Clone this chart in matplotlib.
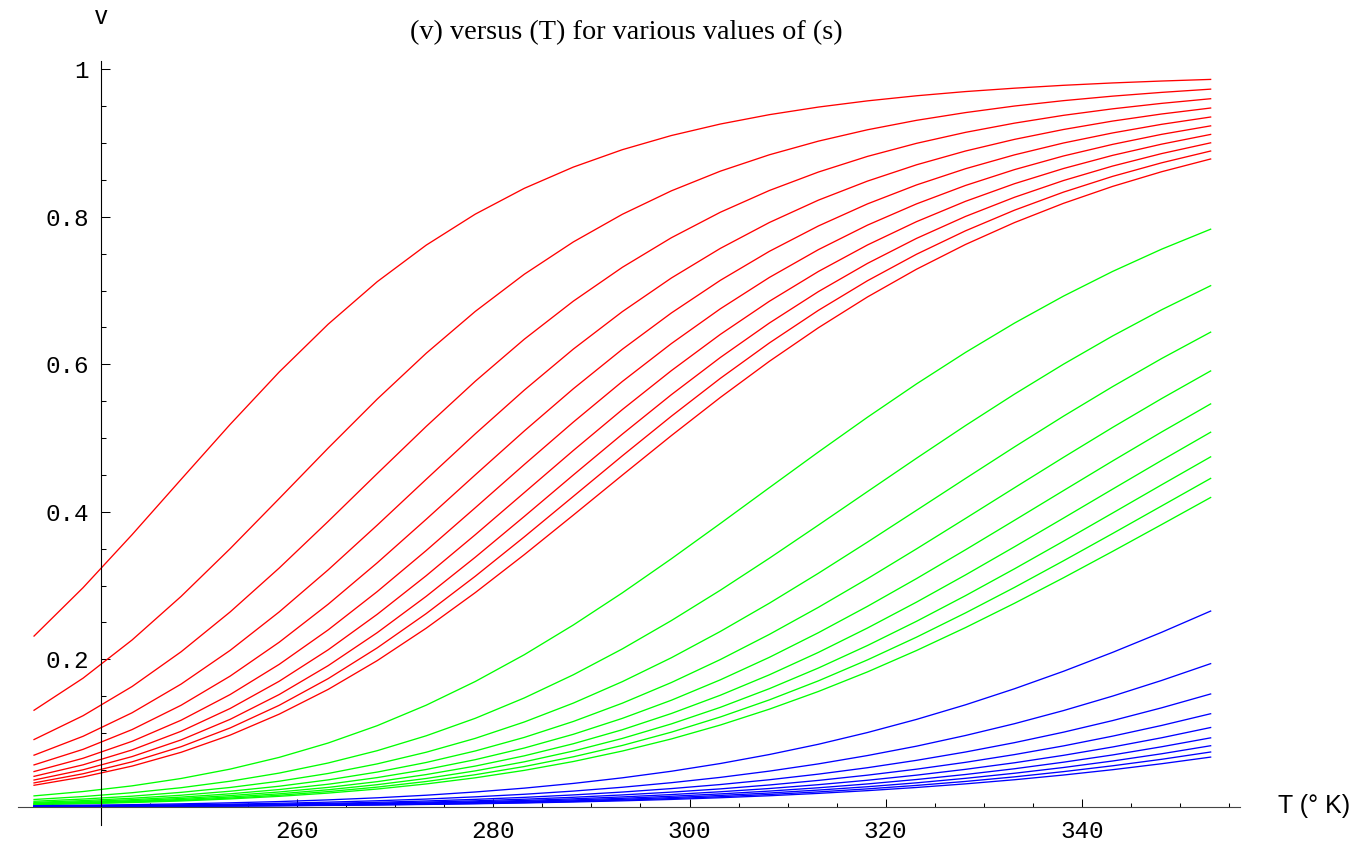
import matplotlib
matplotlib.use("Agg")
from matplotlib import pyplot as plt
from matplotlib.ticker import FixedLocator

# temperature samples (K)
T = [233.15, 238.15, 243.15, 248.15, 253.15, 258.15, 263.15, 268.15, 273.15,
     278.15, 283.15, 288.15, 293.15, 298.15, 303.15, 308.15, 313.15, 318.15,
     323.15, 328.15, 333.15, 338.15, 343.15, 348.15, 353.15]

# red group, s = 1 .. 10
red_s = [1, 2, 3, 4, 5, 6, 7, 8, 9, 10]
red_v = [
    [0.2315, 0.2971, 0.3690, 0.4440, 0.5185, 0.5895, 0.6544, 0.7120, 0.7616, 0.8036, 0.8386, 0.8674, 0.8910, 0.9102, 0.9258, 0.9385, 0.9488, 0.9572, 0.9641, 0.9698, 0.9744, 0.9783, 0.9815, 0.9841, 0.9863],
    [0.1309, 0.1744, 0.2262, 0.2853, 0.3500, 0.4179, 0.4864, 0.5528, 0.6150, 0.6717, 0.7221, 0.7659, 0.8034, 0.8352, 0.8619, 0.8841, 0.9026, 0.9180, 0.9308, 0.9413, 0.9502, 0.9575, 0.9636, 0.9687, 0.9731],
    [0.0912, 0.1235, 0.1631, 0.2102, 0.2642, 0.3237, 0.3870, 0.4518, 0.5158, 0.5770, 0.6340, 0.6856, 0.7315, 0.7716, 0.8062, 0.8357, 0.8607, 0.8819, 0.8996, 0.9145, 0.9270, 0.9376, 0.9464, 0.9538, 0.9601],
    [0.0700, 0.0956, 0.1275, 0.1664, 0.2121, 0.2642, 0.3213, 0.3819, 0.4441, 0.5057, 0.5650, 0.6206, 0.6714, 0.7170, 0.7572, 0.7923, 0.8226, 0.8484, 0.8705, 0.8892, 0.9050, 0.9184, 0.9298, 0.9394, 0.9475],
    [0.0568, 0.0779, 0.1047, 0.1377, 0.1772, 0.2231, 0.2747, 0.3308, 0.3899, 0.4501, 0.5096, 0.5668, 0.6204, 0.6696, 0.7139, 0.7532, 0.7876, 0.8175, 0.8432, 0.8652, 0.8840, 0.9001, 0.9137, 0.9254, 0.9353],
    [0.0478, 0.0658, 0.0888, 0.1174, 0.1522, 0.1931, 0.2399, 0.2918, 0.3475, 0.4055, 0.4641, 0.5216, 0.5767, 0.6281, 0.6753, 0.7178, 0.7555, 0.7887, 0.8175, 0.8425, 0.8640, 0.8825, 0.8982, 0.9118, 0.9233],
    [0.0413, 0.0569, 0.0771, 0.1024, 0.1333, 0.1702, 0.2129, 0.2610, 0.3134, 0.3689, 0.4260, 0.4831, 0.5386, 0.5914, 0.6406, 0.6855, 0.7259, 0.7618, 0.7934, 0.8210, 0.8449, 0.8655, 0.8833, 0.8985, 0.9117],
    [0.0363, 0.0502, 0.0681, 0.0907, 0.1186, 0.1522, 0.1914, 0.2361, 0.2854, 0.3384, 0.3937, 0.4499, 0.5053, 0.5588, 0.6093, 0.6560, 0.6986, 0.7368, 0.7707, 0.8005, 0.8265, 0.8492, 0.8688, 0.8857, 0.9003],
    [0.0324, 0.0448, 0.0610, 0.0815, 0.1069, 0.1376, 0.1738, 0.2155, 0.2620, 0.3126, 0.3660, 0.4209, 0.4759, 0.5296, 0.5810, 0.6290, 0.6732, 0.7133, 0.7492, 0.7810, 0.8090, 0.8335, 0.8548, 0.8732, 0.8892],
    [0.0292, 0.0405, 0.0552, 0.0739, 0.0972, 0.1256, 0.1592, 0.1982, 0.2422, 0.2904, 0.3419, 0.3955, 0.4497, 0.5033, 0.5551, 0.6041, 0.6496, 0.6913, 0.7289, 0.7625, 0.7922, 0.8183, 0.8412, 0.8611, 0.8784],
]

# green group, s = 20 .. 100
green_s = [20, 30, 40, 50, 60, 70, 80, 90, 100]
green_v = [
    [0.0148, 0.0207, 0.0284, 0.0384, 0.0511, 0.0670, 0.0865, 0.1100, 0.1378, 0.1699, 0.2062, 0.2465, 0.2901, 0.3363, 0.3842, 0.4328, 0.4811, 0.5282, 0.5734, 0.6161, 0.6559, 0.6925, 0.7259, 0.7561, 0.7832],
    [0.0099, 0.0139, 0.0191, 0.0259, 0.0347, 0.0457, 0.0594, 0.0761, 0.0963, 0.1200, 0.1476, 0.1790, 0.2141, 0.2525, 0.2937, 0.3371, 0.3820, 0.4274, 0.4726, 0.5169, 0.5596, 0.6002, 0.6384, 0.6739, 0.7066],
    [0.0075, 0.0105, 0.0144, 0.0196, 0.0262, 0.0347, 0.0452, 0.0582, 0.0740, 0.0928, 0.1150, 0.1406, 0.1697, 0.2021, 0.2378, 0.2761, 0.3167, 0.3589, 0.4020, 0.4452, 0.4880, 0.5297, 0.5697, 0.6078, 0.6436],
    [0.0060, 0.0084, 0.0116, 0.0157, 0.0211, 0.0279, 0.0365, 0.0471, 0.0601, 0.0757, 0.0941, 0.1157, 0.1405, 0.1685, 0.1997, 0.2338, 0.2705, 0.3093, 0.3497, 0.3910, 0.4326, 0.4739, 0.5144, 0.5535, 0.5910],
    [0.0050, 0.0070, 0.0097, 0.0131, 0.0176, 0.0234, 0.0306, 0.0396, 0.0506, 0.0639, 0.0797, 0.0983, 0.1199, 0.1445, 0.1722, 0.2027, 0.2361, 0.2718, 0.3094, 0.3485, 0.3885, 0.4288, 0.4689, 0.5082, 0.5463],
    [0.0043, 0.0060, 0.0083, 0.0113, 0.0152, 0.0201, 0.0263, 0.0341, 0.0437, 0.0552, 0.0691, 0.0855, 0.1045, 0.1265, 0.1513, 0.1790, 0.2094, 0.2424, 0.2775, 0.3144, 0.3526, 0.3915, 0.4307, 0.4697, 0.5079],
    [0.0038, 0.0053, 0.0073, 0.0099, 0.0133, 0.0176, 0.0231, 0.0300, 0.0384, 0.0487, 0.0610, 0.0756, 0.0927, 0.1124, 0.1349, 0.1602, 0.1882, 0.2187, 0.2515, 0.2863, 0.3227, 0.3602, 0.3983, 0.4366, 0.4745],
    [0.0033, 0.0047, 0.0065, 0.0088, 0.0118, 0.0157, 0.0206, 0.0267, 0.0343, 0.0435, 0.0546, 0.0678, 0.0832, 0.1012, 0.1218, 0.1450, 0.1708, 0.1992, 0.2300, 0.2629, 0.2975, 0.3336, 0.3705, 0.4079, 0.4453],
    [0.0030, 0.0042, 0.0058, 0.0079, 0.0107, 0.0142, 0.0186, 0.0241, 0.0310, 0.0393, 0.0494, 0.0614, 0.0756, 0.0920, 0.1109, 0.1324, 0.1564, 0.1829, 0.2119, 0.2430, 0.2760, 0.3106, 0.3463, 0.3827, 0.4194],
]

# blue group, s = 200 .. 1000
blue_s = [200, 300, 400, 500, 600, 700, 800, 900, 1000]
blue_v = [
    [0.0015, 0.0021, 0.0029, 0.0040, 0.0054, 0.0071, 0.0094, 0.0122, 0.0157, 0.0201, 0.0253, 0.0317, 0.0393, 0.0482, 0.0587, 0.0709, 0.0848, 0.1007, 0.1185, 0.1383, 0.1601, 0.1838, 0.2094, 0.2366, 0.2654],
    [0.0010, 0.0014, 0.0019, 0.0027, 0.0036, 0.0048, 0.0063, 0.0082, 0.0105, 0.0135, 0.0170, 0.0213, 0.0265, 0.0327, 0.0399, 0.0484, 0.0582, 0.0695, 0.0822, 0.0967, 0.1127, 0.1305, 0.1501, 0.1713, 0.1941],
    [0.0008, 0.0011, 0.0015, 0.0020, 0.0027, 0.0036, 0.0047, 0.0061, 0.0079, 0.0101, 0.0128, 0.0161, 0.0200, 0.0247, 0.0302, 0.0367, 0.0443, 0.0530, 0.0630, 0.0743, 0.0870, 0.1012, 0.1169, 0.1342, 0.1530],
    [0.0006, 0.0008, 0.0012, 0.0016, 0.0021, 0.0029, 0.0038, 0.0049, 0.0064, 0.0081, 0.0103, 0.0129, 0.0161, 0.0199, 0.0243, 0.0296, 0.0358, 0.0429, 0.0510, 0.0603, 0.0708, 0.0826, 0.0958, 0.1103, 0.1262],
    [0.0005, 0.0007, 0.0010, 0.0013, 0.0018, 0.0024, 0.0031, 0.0041, 0.0053, 0.0068, 0.0086, 0.0108, 0.0134, 0.0166, 0.0204, 0.0248, 0.0300, 0.0360, 0.0429, 0.0508, 0.0597, 0.0698, 0.0811, 0.0936, 0.1075],
    [0.0004, 0.0006, 0.0008, 0.0011, 0.0015, 0.0020, 0.0027, 0.0035, 0.0045, 0.0058, 0.0074, 0.0093, 0.0115, 0.0143, 0.0175, 0.0213, 0.0258, 0.0310, 0.0370, 0.0438, 0.0516, 0.0605, 0.0703, 0.0814, 0.0935],
    [0.0004, 0.0005, 0.0007, 0.0010, 0.0013, 0.0018, 0.0024, 0.0031, 0.0040, 0.0051, 0.0065, 0.0081, 0.0101, 0.0125, 0.0154, 0.0187, 0.0227, 0.0272, 0.0325, 0.0386, 0.0455, 0.0533, 0.0621, 0.0719, 0.0828],
    [0.0003, 0.0005, 0.0006, 0.0009, 0.0012, 0.0016, 0.0021, 0.0027, 0.0035, 0.0045, 0.0057, 0.0072, 0.0090, 0.0111, 0.0137, 0.0167, 0.0202, 0.0243, 0.0290, 0.0344, 0.0406, 0.0477, 0.0556, 0.0644, 0.0743],
    [0.0003, 0.0004, 0.0006, 0.0008, 0.0011, 0.0014, 0.0019, 0.0025, 0.0032, 0.0041, 0.0052, 0.0065, 0.0081, 0.0100, 0.0123, 0.0150, 0.0182, 0.0219, 0.0262, 0.0311, 0.0367, 0.0431, 0.0503, 0.0584, 0.0674],
]

x_major = [260, 280, 300, 320, 340]
y_major = [0.2, 0.4, 0.6, 0.8, 1.0]
y_labels = ["0.2", "0.4", "0.6", "0.8", "1"]

W, H = 1367, 842
fig = plt.figure(figsize=(W / 100, H / 100), dpi=100)
ax = fig.add_axes([0, 0, 1, 1])
ax.patch.set_alpha(0)

# pixel mapping: T=260 at x=297.3, 9.805 px per K;
# v=0 at y=806.8, 737.5 px per unit
ax.set_xlim(260 - 297.3 / 9.805, 260 + (W - 297.3) / 9.805)
ax.set_ylim((806.8 - H) / 737.5, 806.8 / 737.5)

for group, col in [(red_v, "#ff0000"), (green_v, "#00ff00"), (blue_v, "#0000ff")]:
    for v in group:
        ax.plot(T, v, color=col, lw=0.95, solid_joinstyle="miter")

# mathematica-style crossing axes
for side in ["top", "right"]:
    ax.spines[side].set_visible(False)
ax.spines["left"].set_position(("data", 240))
ax.spines["bottom"].set_position(("data", 0))
ax.spines["left"].set_bounds(-0.025, 1.011)
ax.spines["bottom"].set_bounds(231.5, 356.1)
ax.spines["left"].set_linewidth(0.8)
ax.spines["bottom"].set_linewidth(0.8)
ax.spines["bottom"].set_color("#444444")

ax.xaxis.set_major_locator(FixedLocator(x_major))
ax.xaxis.set_minor_locator(FixedLocator([235 + 5 * i for i in range(25)]))
ax.yaxis.set_major_locator(FixedLocator(y_major))
ax.yaxis.set_minor_locator(FixedLocator([0.05 * i for i in range(1, 21)]))
ax.set_xticklabels([str(x) for x in x_major])
ax.set_yticklabels(y_labels)

ax.tick_params(axis="both", which="both", direction="in", width=0.75, color="black")
ax.tick_params(axis="x", which="major", length=5.8, pad=9.5)
ax.tick_params(axis="x", which="minor", length=3.1)
ax.tick_params(axis="y", which="major", length=6.3, pad=9)
ax.tick_params(axis="y", which="minor", length=3.8)
for lab in ax.get_xticklabels() + ax.get_yticklabels():
    lab.set_fontfamily("Liberation Mono")
    lab.set_fontsize(17.5)

fig.text(626.5 / W, 1 - 33 / H, "(v) versus (T) for various values of (s)",
         family="Liberation Serif", fontsize=20.3, ha="center", va="center")
fig.text(101 / W, 1 - 24 / H, "v", family="Liberation Sans", fontsize=18,
         ha="center", va="baseline")
fig.text(1278 / W, 1 - 813 / H, "T (° K)", family="Liberation Sans", fontsize=18,
         ha="left", va="baseline")

fig.savefig("out.png", dpi=100)
